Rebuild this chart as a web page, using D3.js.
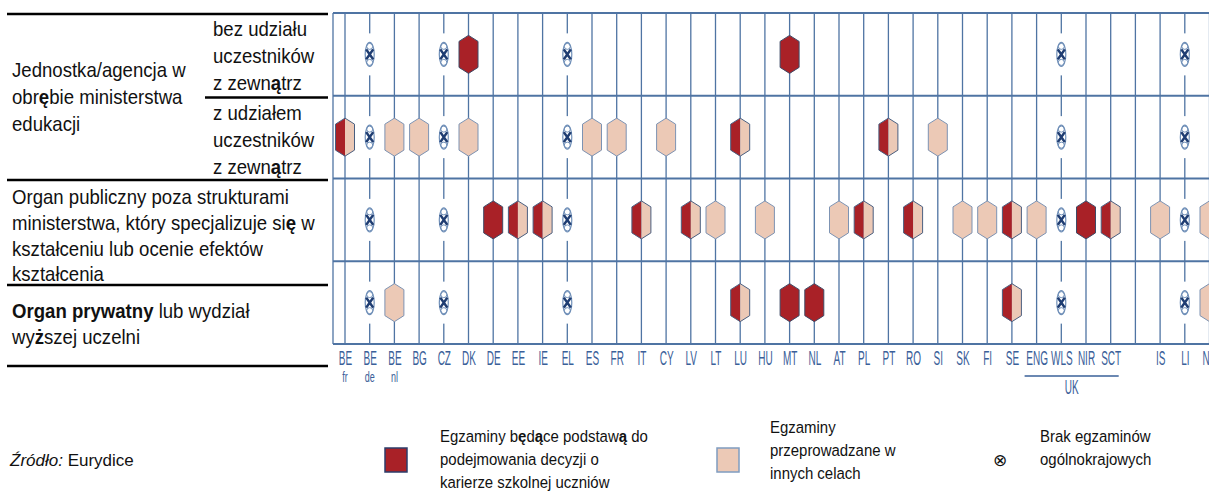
<!DOCTYPE html>
<html><head><meta charset="utf-8">
<script src="https://cdn.jsdelivr.net/npm/d3@7/dist/d3.min.js"></script>
<style>
html,body{margin:0;padding:0;background:#fff;}
svg{display:block;font-family:"Liberation Sans",Arial,sans-serif;}
</style></head>
<body><svg id="c" width="1209" height="492"></svg>
<script>
// ---- data ----
const columns = ["BE fr","BE de","BE nl","BG","CZ","DK","DE","EE","IE","EL","ES","FR","IT","CY","LV","LT","LU","HU","MT","NL","AT","PL","PT","RO","SI","SK","FI","SE","ENG","WLS","NIR","SCT","gap","IS","LI","NO"];
const tickMain = ["BE","BE","BE","BG","CZ","DK","DE","EE","IE","EL","ES","FR","IT","CY","LV","LT","LU","HU","MT","NL","AT","PL","PT","RO","SI","SK","FI","SE","ENG","WLS","NIR","SCT","","IS","LI","NO"];
const tickSub = ["fr","de","nl"];
const ukGroup = ["ENG","WLS","NIR","SCT"];
const rowKeys = ["bez","z","pub","pryw"];
// D = decisive exam, L = other purposes, S = both, X = no national exam
const rowBez  = ["","X","","","X","D","","","","X","","","","","","","","","D","","","","","","","","","","","X","","","","","X",""];
const rowZ    = ["S","X","L","L","X","L","","","","X","L","L","","L","","","S","","","","","","S","","L","","","","","X","","","","","X",""];
const rowPub  = ["","X","","","X","","D","S","S","X","","","S","","S","L","","L","","","L","S","","S","","L","L","S","L","X","D","S","","L","X","L"];
const rowPryw = ["","X","L","","X","","","","","X","","","","","","","S","","D","D","","","","","","","","S","","X","","","","","X","L"];
const rowsData = [rowBez,rowZ,rowPub,rowPryw];

const DARK="#a92127", LIGHT="#ecc9b6", GRID="#4f74a3", LBL="#3a6099";

const svg=d3.select("#c");
const x=d3.scalePoint().domain(columns).range([345,1209.5]);
const y=d3.scaleBand().domain(rowKeys).range([13,344]);

// ---- grid ----
const g=svg.append("g");
g.selectAll("line.v").data(columns).join("line").attr("class","v")
 .attr("x1",d=>x(d)).attr("x2",d=>x(d)).attr("y1",13).attr("y2",344)
 .attr("stroke",GRID).attr("stroke-width",1.3);
g.append("line").attr("x1",333).attr("x2",333).attr("y1",13).attr("y2",344).attr("stroke",GRID).attr("stroke-width",1.3);
const hLines=rowKeys.map(k=>y(k)).concat([344]);
g.selectAll("line.h").data(hLines).join("line").attr("class","h")
 .attr("x1",333).attr("x2",1209).attr("y1",d=>d).attr("y2",d=>d)
 .attr("stroke",GRID).attr("stroke-width",2);

// ---- marks ----
const hw=9.5, hh=19, tp=6;
const hexPts=[[0,-hh],[hw,-hh+tp],[hw,hh-tp],[0,hh],[-hw,hh-tp],[-hw,-hh+tp]];
const leftPts=[[0,-hh],[0,hh],[-hw,hh-tp],[-hw,-hh+tp]];
const rightPts=[[0,-hh],[hw,-hh+tp],[hw,hh-tp],[0,hh]];
const line=d3.line().curve(d3.curveLinearClosed);

rowKeys.forEach((k,ri)=>{
  const data=columns.map((c,i)=>({c,v:rowsData[ri][i]})).filter(d=>d.v);
  const cy=y(k)+y.bandwidth()/2;
  const mg=svg.append("g");
  const items=mg.selectAll("g").data(data).join("g").attr("transform",d=>`translate(${x(d.c)},${cy})`);
  items.each(function(d){
    const s=d3.select(this);
    if(d.v==="X"){
      s.append("rect").attr("x",-4).attr("y",-21).attr("width",8).attr("height",42).attr("fill","#fff");
      s.append("ellipse").attr("rx",4.5).attr("ry",12).attr("fill","#fff").attr("stroke","#6f8fb8").attr("stroke-width",1.2);
      s.append("circle").attr("cy",-8).attr("r",3).attr("fill","none").attr("stroke","#6f8fb8").attr("stroke-width",1);
      s.append("circle").attr("cy",8).attr("r",3).attr("fill","none").attr("stroke","#6f8fb8").attr("stroke-width",1);
      s.append("path").attr("d","M-3.5,-5L3.5,5M3.5,-5L-3.5,5").attr("stroke","#1f3d72").attr("stroke-width",2.6).attr("fill","none");
    } else if(d.v==="S"){
      s.append("path").attr("d",line(leftPts)).attr("fill",DARK);
      s.append("path").attr("d",line(rightPts)).attr("fill",LIGHT);
      s.append("path").attr("d",line(hexPts)).attr("fill","none").attr("stroke","#4a5f80").attr("stroke-width",1);
    } else {
      s.append("path").attr("d",line(hexPts)).attr("fill",d.v==="D"?DARK:LIGHT)
       .attr("stroke",d.v==="D"?"#3f4a66":"#7d93b3").attr("stroke-width",1);
    }
  });
});

// ---- x axis labels ----
const ax=svg.append("g").attr("transform","translate(0,344)")
 .call(d3.axisBottom(x).tickSize(0).tickFormat((d,i)=>tickMain[i]));
ax.select(".domain").remove();
ax.selectAll("text").attr("y",0).attr("dy",0)
 .attr("transform","translate(0,21) scale(0.5,1)")
 .attr("font-size",20).attr("fill",LBL).attr("font-family","Liberation Sans, Arial, sans-serif");
svg.append("g").selectAll("text").data(tickSub).join("text")
 .attr("transform",(d,i)=>`translate(${x(columns[i])},382) scale(0.6,1)`)
 .attr("text-anchor","middle").attr("font-size",15).attr("fill",LBL).text(d=>d);
const ukL=x(ukGroup[0])-12, ukR=x(ukGroup[3])+8;
svg.append("line").attr("x1",ukL).attr("x2",ukR).attr("y1",376).attr("y2",376).attr("stroke",LBL).attr("stroke-width",1.5);
svg.append("text").attr("transform",`translate(${(ukL+ukR)/2},394) scale(0.5,1)`)
 .attr("text-anchor","middle").attr("font-size",20).attr("fill",LBL).text("UK");

// ---- helpers ----
function rich(parent, xx, yy, parts, sx){
  const t=parent.append("text").attr("transform",`translate(${xx},${yy}) scale(${sx||1},1)`);
  parts.forEach(p=>{
    const isB=Array.isArray(p);
    t.append("tspan").attr("font-weight",isB?"bold":null).text(isB?p[0]:p);
  });
}

// ---- left table ----
const lt=svg.append("g").attr("font-size",20).attr("fill","#111");
[[7,14],[205,97.5],[7,180],[7,285],[7,366]].forEach(([x1,yy])=>{
  lt.append("line").attr("x1",x1).attr("x2",328).attr("y1",yy).attr("y2",yy).attr("stroke","#000").attr("stroke-width",2.6);
});
const LS=0.93;
rich(lt,213,36,["bez udziału"],LS);
rich(lt,213,63,["uczestników"],LS);
rich(lt,213,90,["z zewn",["ą"],"trz"],LS);
rich(lt,213,120,["z udziałem"],LS);
rich(lt,213,147,["uczestników"],LS);
rich(lt,213,174,["z zewn",["ą"],"trz"],LS);
rich(lt,12,77,["Jednostka/agencja w"],LS);
rich(lt,12,104,["obr",["ę"],"bie ministerstwa"],LS);
rich(lt,12,131,["edukacji"],LS);
rich(lt,12,204,["Organ publiczny poza strukturami"],LS);
rich(lt,12,230,["ministerstwa, który specjalizuje si",["ę"]," w"],LS);
rich(lt,12,256,["kształceniu lub ocenie efektów"],LS);
rich(lt,12,281,["kształcenia"],LS);
rich(lt,12,318,[["Organ prywatny"]," lub wydział"],LS);
rich(lt,12,344,["wy",["ż"],"szej uczelni"],LS);

// ---- source & legend ----
const lg=svg.append("g").attr("font-size",17).attr("fill","#111");
const GS=0.88;
const src=lg.append("text").attr("transform","translate(10,466)");
src.append("tspan").attr("font-style","italic").text("Źródło:");
src.append("tspan").text(" Eurydice");
lg.append("rect").attr("x",385).attr("y",448).attr("width",22).attr("height",24).attr("fill",DARK).attr("stroke","#2c3d6b").attr("stroke-width",1.5);
rich(lg,440,442,["Egzaminy b",["ę"],"d",["ą"],"ce podstaw",["ą"]," do"],GS);
rich(lg,440,465,["podejmowania decyzji o"],GS);
rich(lg,440,488,["karierze szkolnej uczniów"],GS);
lg.append("rect").attr("x",717).attr("y",448).attr("width",22).attr("height",24).attr("fill",LIGHT).attr("stroke","#7f9cc0").attr("stroke-width",1.5);
rich(lg,770,433,["Egzaminy"],GS);
rich(lg,770,456,["przeprowadzane w"],GS);
rich(lg,770,479,["innych celach"],GS);
lg.append("text").attr("x",1000).attr("y",466).attr("text-anchor","middle").attr("font-family","DejaVu Sans").attr("font-size",17).text("⊗");
rich(lg,1040,442,["Brak egzaminów"],GS);
rich(lg,1040,465,["ogólnokrajowych"],GS);
</script></body></html>
